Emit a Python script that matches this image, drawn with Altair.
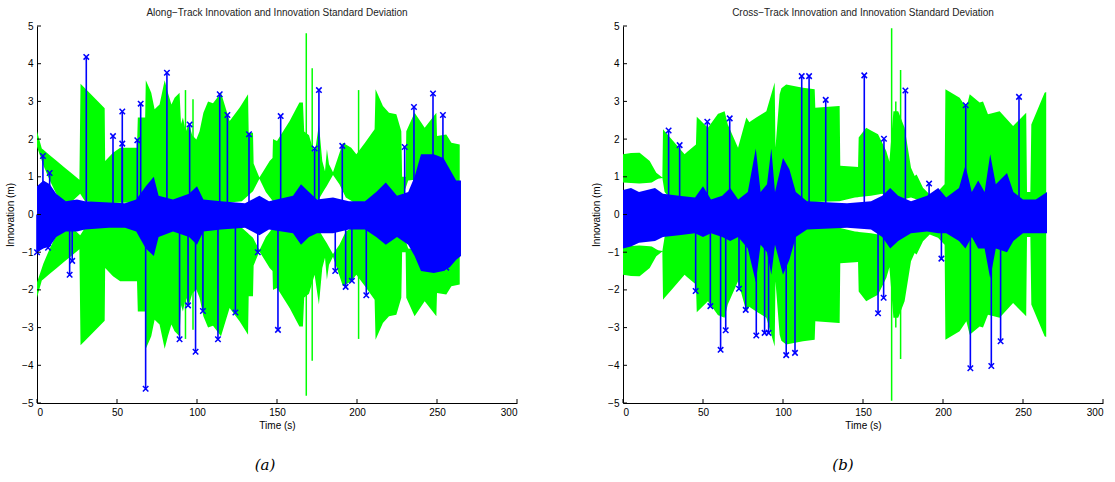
import altair as alt
import pandas as pd

# ---------------- Panel (a): Along-Track ----------------
a_env_t = [0, 3, 26.5, 27.2, 42.3, 42.6, 47.5, 52, 62.5, 63, 67.6, 68, 71.4, 73.5, 76.6, 79.8, 81.8, 84, 86, 89.1,
           90, 91.2, 93, 95, 97, 99.6, 101.6, 104, 106.9, 110, 115, 117, 120.4, 126.6, 131.9, 132.3, 135, 135.4,
           139, 145.4, 147.2, 147.5, 150, 157.9, 164, 166.2, 167, 170, 173.5, 176.2, 178.3, 180, 181.2, 182.5,
           185, 191.2, 196.4, 199.6, 205, 211, 211.6, 216.2, 220, 224.6, 227.7, 228.2, 230.4, 230.8, 236, 242.3,
           249.6, 250, 255.8, 259, 264.2]
a_env_outer = [2.21, 1.75, 0.92, 3.47, 2.82, 1.42, 1.64, 1.77, 1.77, 2.57, 2.57, 3.56, 3.23, 2.79, 2.92, 3.56, 3.23,
               2.92, 3.1, 3.23, 2.4, 2.57, 2.2, 2.4, 2.1, 1.99, 2.21, 2.7, 3.0, 2.95, 3.23, 2.95, 2.48, 2.83, 3.19,
               2.17, 2.17, 1.35, 0.98, 1.42, 1.5, 2.0, 1.95, 2.48, 2.97, 2.97, 2.2, 2.1, 1.6, 2.39, 1.42, 1.15,
               1.73, 1.33, 1.12, 1.9, 1.77, 1.6, 1.9, 2.26, 3.32, 2.88, 2.7, 2.66, 2.21, 1.0, 1.0, 2.21, 2.70,
               2.30, 2.70, 2.08, 2.12, 1.9, 1.86]
a_inner_t = [0, 4, 8, 12, 17, 22, 27, 30, 40, 60, 70, 90, 100, 120, 128, 135, 139, 143, 148, 165, 176, 181, 185,
             189, 193, 198, 228, 232, 240, 264.2]
a_inner = [1.8, 1.3, 0.9, 0.55, 0.32, 0.35, 0.55, 0.35, 0.3, 0.32, 0.35, 0.3, 0.32, 0.32, 0.35, 0.62, 0.95, 0.6,
           0.32, 0.32, 0.4, 0.75, 1.05, 0.8, 0.45, 0.32, 0.4, 0.9, 0.95, 0.87]
a_gspike_t = [92.8, 97.5, 168.3, 172, 201]
a_gspike_v = [3.3, 3.06, 4.81, 3.88, 3.3]
a_band_t = [0, 4, 8, 12, 18, 25, 30, 45, 55, 62, 68, 73, 76, 85, 95, 100, 104, 115, 130, 139, 145, 160, 165, 170,
            175, 185, 195, 205, 212, 218, 225, 232, 236, 240, 248, 254, 258, 262, 265]
a_band_hi = [0.75, 0.9, 0.8, 0.55, 0.35, 0.4, 0.35, 0.32, 0.3, 0.4, 0.75, 1.0, 0.5, 0.4, 0.55, 0.75, 0.4, 0.35,
             0.3, 0.5, 0.35, 0.5, 0.8, 0.6, 0.4, 0.45, 0.35, 0.35, 0.6, 0.85, 0.5, 0.6, 1.0, 1.6, 1.6, 1.5, 1.2,
             0.9, 0.9]
a_band_lo = [-1.0, -0.9, -0.85, -0.6, -0.45, -0.45, -0.4, -0.35, -0.35, -0.45, -0.9, -1.1, -0.6, -0.45, -0.6,
             -0.8, -0.45, -0.4, -0.35, -0.55, -0.4, -0.5, -0.8, -0.6, -0.5, -0.5, -0.4, -0.4, -0.6, -0.8, -0.6,
             -0.8, -1.1, -1.5, -1.55, -1.5, -1.4, -1.2, -1.1]
a_spike_t = [3.7, 7.9, 30.8, 47.5, 53.3, 53.3, 62.7, 64.8, 81.2, 95.4, 114.2, 119, 132.5, 152.3, 173.5, 176.2,
             190.8, 229.8, 235.6, 247.5, 253.7,
             0, 6.9, 20.4, 22, 67.9, 89.1, 94.4, 99.1, 103.7, 113.1, 124, 138, 150.6, 186.4, 192.9, 196.8, 205.8,
             255.8]
a_spike_v = [1.55, 1.1, 4.18, 2.08, 2.73, 1.88, 1.97, 2.94, 3.76, 2.39, 3.19, 2.64, 2.13, 2.61, 1.75, 3.30,
             1.82, 1.79, 2.85, 3.21, 2.64,
             -1.0, -0.88, -1.6, -1.23, -4.62, -3.31, -2.41, -3.64, -2.56, -3.31, -2.6, -1.0, -3.06, -1.5, -1.92,
             -1.76, -2.14, -1.41]

# ---------------- Panel (b): Cross-Track ----------------
b_env_t = [0, 5, 10.4, 16.7, 20.8, 24.6, 25, 38.5, 45.6, 46.1, 53.1, 59.4, 63.5, 65.5, 71.9, 77.1, 79, 83.3, 89.6,
           94.8, 95.3, 97.9, 99, 102, 112.5, 119.8, 120.2, 135.4, 135.8, 146.9, 147.3, 152, 159.4, 164.6, 166.5,
           169, 172, 176, 178, 180, 182.3, 183.5, 187.5, 191.7, 196.9, 201, 201.5, 210.4, 214.6, 216.7, 222.9,
           225, 228.1, 235.4, 243.8, 252, 252.5, 254.6, 255.2, 263.5, 264.5]
b_env_outer = [1.6, 1.63, 1.64, 1.42, 1.11, 0.98, 2.26, 1.6, 1.86, 2.59, 2.3, 2.67, 2.74, 2.39, 1.77, 2.57, 2.45,
               2.57, 2.74, 3.5, 1.77, 3.19, 3.35, 3.45, 3.36, 3.32, 2.83, 2.88, 1.29, 1.26, 2.04, 2.30, 2.13, 1.68,
               1.4, 2.74, 2.74, 2.3, 1.77, 1.24, 1.02, 1.06, 0.71, 0.53, 0.62, 0.8, 3.32, 3.1, 2.83, 3.19, 2.97,
               3.0, 2.66, 2.74, 2.35, 2.70, 0.6, 0.6, 2.39, 3.23, 3.25]
b_inner_t = [0, 10, 18, 22, 24.6, 26, 30, 40, 60, 80, 100, 110, 135, 145, 155, 162, 170, 180, 186, 191.7, 196.9,
             201, 230, 250, 264.5]
b_inner = [0.85, 0.82, 0.85, 0.95, 0.97, 0.6, 0.4, 0.33, 0.3, 0.3, 0.35, 0.32, 0.35, 0.45, 0.5, 0.55, 0.35, 0.45,
           0.36, 0.36, 0.38, 0.35, 0.35, 0.35, 0.35]
b_gspike_t = [167.9, 170.5, 173.5]
b_gspike_v = [4.94, 3.0, 3.83]
b_band_t = [0, 5, 10, 20, 25, 35, 45, 50, 55, 62, 67, 72, 78, 83, 86, 90, 92.7, 95, 100, 104, 108, 115, 140, 155,
            162, 167, 172, 180, 190, 197, 202, 210, 214, 218, 222, 226, 229.5, 233, 240, 244, 250, 258, 265]
b_band_hi = [0.65, 0.7, 0.6, 0.7, 0.55, 0.5, 0.45, 0.75, 0.4, 0.5, 0.7, 0.4, 0.6, 1.75, 0.6, 0.8, 1.75, 0.6, 1.5,
             1.2, 0.6, 0.35, 0.3, 0.35, 0.5, 0.7, 0.5, 0.35, 0.5, 0.7, 0.45, 0.7, 1.3, 0.6, 0.9, 0.6, 1.6, 0.8,
             1.1, 0.6, 0.4, 0.4, 0.6]
b_band_lo = [-0.9, -0.85, -0.75, -0.7, -0.6, -0.55, -0.5, -0.6, -0.5, -0.6, -0.7, -0.6, -0.9, -1.8, -0.8, -1.0,
             -1.6, -0.8, -1.6, -1.2, -0.6, -0.4, -0.35, -0.4, -0.6, -0.9, -0.7, -0.5, -0.45, -0.5, -0.5, -0.7,
             -0.9, -0.6, -0.9, -0.9, -1.7, -0.9, -1.0, -0.7, -0.5, -0.5, -0.5]
b_spike_t = [28.5, 35.4, 52.7, 66.7, 111.7, 116.3, 126.7, 150.8, 163.1, 176.5, 191.3, 214.2, 247.5,
             45.4, 54.6, 61, 64.2, 72.5, 76.7, 83.3, 88.5, 91, 102, 107.5, 159.4, 162.9, 199, 217.1, 230.2, 236]
b_spike_v = [2.23, 1.84, 2.46, 2.55, 3.67, 3.67, 3.04, 3.69, 2.01, 3.29, 0.82, 2.9, 3.12,
             -2.03, -2.43, -3.59, -3.07, -1.97, -2.53, -3.21, -3.14, -3.14, -3.73, -3.67, -2.62, -2.21, -1.17,
             -4.08, -4.02, -3.36]

x_ticks = [0, 50, 100, 150, 200, 250, 300]
y_ticks = [-5, -4, -3, -2, -1, 0, 1, 2, 3, 4, 5]

GREEN = "#00ff00"
BLUE = "#0000ff"
FONT = "Liberation Sans"
W, H = 480, 377

xs = alt.Scale(domain=[0, 300], nice=False)
ys = alt.Scale(domain=[-5, 5], nice=False)
xax = alt.Axis(values=x_ticks, title="Time (s)", tickSize=0, labelPadding=4, titlePadding=3, grid=False,
               labelOverlap=False)
yax = alt.Axis(values=y_ticks, title="Innovation (m)", tickSize=0, labelPadding=4, titlePadding=6, grid=False,
               labelOverlap=False)


def X(f):
    return alt.X(f, scale=xs, axis=xax)


def Y(f):
    return alt.Y(f, scale=ys, axis=yax)


def panel(title, caption, cap_x, env_t, outer, inner_t, inner, gs_t, gs_v, bt, bhi, blo, st, sv):
    outer_df = pd.DataFrame({"t": env_t, "outer": outer})
    inner_df = pd.DataFrame({"t": inner_t, "inner": inner})
    all_t = sorted(set(env_t) | set(inner_t))
    env = pd.DataFrame({"t": all_t})
    env = env.merge(outer_df, on="t", how="left").merge(inner_df, on="t", how="left")
    env = env.set_index("t").interpolate(method="index").reset_index()

    up = alt.Chart(env).mark_area(color=GREEN, opacity=1).encode(
        x=X("t:Q"), y=Y("outer:Q"), y2="inner:Q")
    low = alt.Chart(env).transform_calculate(
        nout="-datum.outer", nin="-datum.inner").mark_area(color=GREEN, opacity=1).encode(
        x=X("t:Q"), y=Y("nout:Q"), y2="nin:Q")
    gsp = alt.Chart(pd.DataFrame({"t": gs_t, "v": gs_v})).transform_calculate(
        nv="-datum.v").mark_rule(color=GREEN, strokeWidth=1.5).encode(
        x=X("t:Q"), y=Y("v:Q"), y2="nv:Q")
    band = alt.Chart(pd.DataFrame({"t": bt, "hi": bhi, "lo": blo})).mark_area(color=BLUE, opacity=1).encode(
        x=X("t:Q"), y=Y("hi:Q"), y2="lo:Q")
    sp_df = pd.DataFrame({"t": st, "v": sv, "z": [0] * len(st)})
    spk = alt.Chart(sp_df).mark_rule(color=BLUE, strokeWidth=1.6).encode(
        x=X("t:Q"), y=Y("v:Q"), y2="z:Q")
    mk = alt.Chart(sp_df).mark_point(
        shape="M-1,-1L1,1M-1,1L1,-1", size=30, filled=False, color=BLUE, strokeWidth=1.5, opacity=1).encode(
        x=X("t:Q"), y=Y("v:Q"))
    xt = alt.Chart(pd.DataFrame({"t": x_ticks})).mark_rule(color="black").encode(
        x=X("t:Q"), y=alt.value(H), y2=alt.value(H - 4))
    yt = alt.Chart(pd.DataFrame({"v": y_ticks})).mark_rule(color="black").encode(
        y=Y("v:Q"), x=alt.value(0), x2=alt.value(4))
    cap = alt.Chart(pd.DataFrame({"c": [caption]})).mark_text(
        font="DejaVu Serif", fontStyle="italic", fontSize=15, color="black").encode(
        text="c:N", x=alt.value(cap_x), y=alt.value(H + 62))
    return alt.layer(up, low, gsp, band, spk, mk, xt, yt, cap).properties(
        width=W, height=H,
        title=alt.TitleParams(title, fontSize=10, fontWeight="normal", font=FONT, anchor="middle",
                              frame="group", offset=3, color="#222222"))


pa = panel("Along\u2212Track Innovation and Innovation Standard Deviation", "(a)", 228,
           a_env_t, a_env_outer, a_inner_t, a_inner, a_gspike_t, a_gspike_v,
           a_band_t, a_band_hi, a_band_lo, a_spike_t, a_spike_v)
pb = panel("Cross\u2212Track Innovation and Innovation Standard Deviation", "(b)", 220,
           b_env_t, b_env_outer, b_inner_t, b_inner, b_gspike_t, b_gspike_v,
           b_band_t, b_band_hi, b_band_lo, b_spike_t, b_spike_v)

chart = alt.hconcat(pa, pb, spacing=106, bounds="flush").properties(
    padding={"left": 5, "top": 8, "right": 5, "bottom": 5}, background="white"
).configure_view(strokeWidth=0).configure_axis(
    labelFont=FONT, titleFont=FONT, labelFontSize=10, titleFontSize=10, titleFontWeight="normal",
    labelColor="black", titleColor="black", domainColor="black", domainWidth=1, labelOverlap=False
)

chart.save("out.html", embed_options={"renderer": "svg", "actions": False})
